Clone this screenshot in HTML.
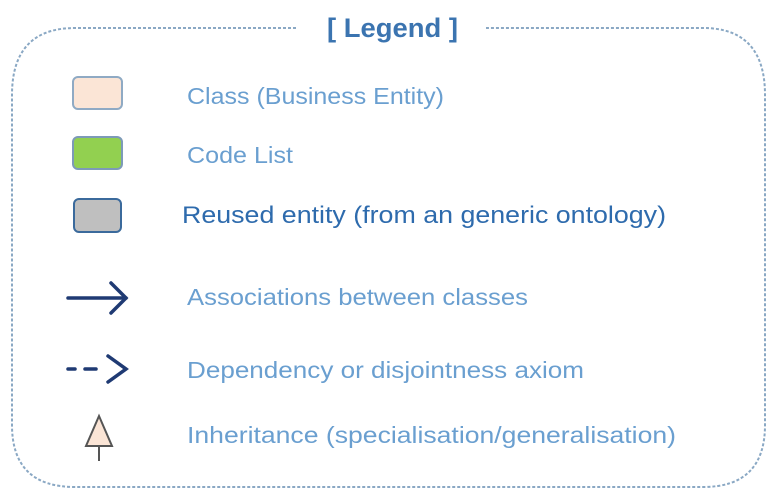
<!DOCTYPE html>
<html><head><meta charset="utf-8"><style>
html,body{margin:0;padding:0;background:#fff;}
svg{display:block;font-family:"Liberation Sans",sans-serif;}
</style></head><body>
<svg width="778" height="497" viewBox="0 0 778 497">
<path d="M296 28 H75 Q12 28 12 95 V425 Q12 487 75 487 H703 Q765 487 765 425 V95 Q765 28 703 28 H486" fill="none" stroke="#8aa8c4" stroke-width="2" stroke-dasharray="3,2"/>
<text x="327" y="37" textLength="131" lengthAdjust="spacingAndGlyphs" font-size="27" font-weight="bold" fill="#3b74b0">[ Legend ]</text>

<rect x="73" y="77" width="49" height="32" rx="5" fill="#fbe5d6" stroke="#8faac4" stroke-width="2"/>
<text x="187" y="104" textLength="257" lengthAdjust="spacingAndGlyphs" font-size="23" fill="#6a9fd0">Class (Business Entity)</text>

<rect x="73" y="137" width="49" height="32" rx="5" fill="#92d050" stroke="#7d9ab8" stroke-width="2"/>
<text x="187" y="163" textLength="106" lengthAdjust="spacingAndGlyphs" font-size="23" fill="#6a9fd0">Code List</text>

<rect x="74" y="199" width="47" height="33" rx="5" fill="#bfbfbf" stroke="#3b6a9c" stroke-width="2"/>
<text x="182" y="223" textLength="484" lengthAdjust="spacingAndGlyphs" font-size="24" fill="#2e6bad">Reused entity (from an generic ontology)</text>

<g stroke="#1f3a73" stroke-width="3.5" fill="none" stroke-linecap="round">
<line x1="68" y1="298" x2="126" y2="298"/>
<polyline points="111,283 126,298 111,313"/>
</g>
<text x="187" y="305" textLength="341" lengthAdjust="spacingAndGlyphs" font-size="23" fill="#6a9fd0">Associations between classes</text>

<g stroke="#1f3a73" stroke-width="3.5" fill="none" stroke-linecap="round">
<line x1="68" y1="369" x2="75" y2="369"/>
<line x1="85" y1="369" x2="96" y2="369"/>
<polyline points="108,356 126,369 108,382"/>
</g>
<text x="187" y="378" textLength="397" lengthAdjust="spacingAndGlyphs" font-size="23" fill="#6a9fd0">Dependency or disjointness axiom</text>

<g>
<line x1="99" y1="446" x2="99" y2="461" stroke="#555" stroke-width="2"/>
<polygon points="99,416 86,446 112,446" fill="#fbe5d6" stroke="#555" stroke-width="2"/>
</g>
<text x="187" y="443" textLength="489" lengthAdjust="spacingAndGlyphs" font-size="23" fill="#6a9fd0">Inheritance (specialisation/generalisation)</text>
</svg>
</body></html>
